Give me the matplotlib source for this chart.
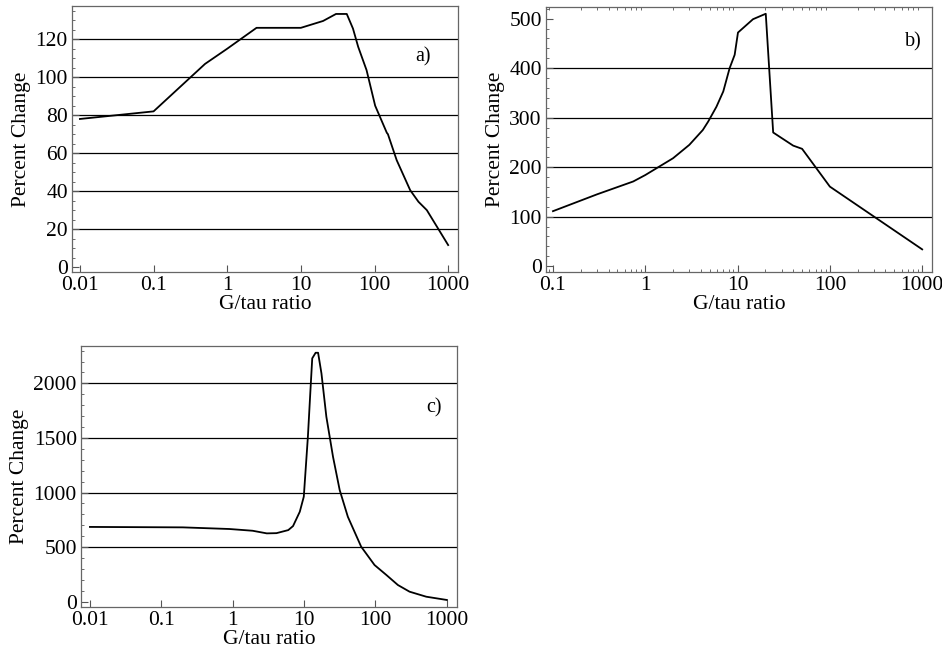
import matplotlib
matplotlib.use('Agg')
import matplotlib.pyplot as plt
from matplotlib.ticker import FixedLocator, LogLocator, NullFormatter, FuncFormatter, MultipleLocator

plt.rcParams['font.family'] = ['Liberation Serif', 'DejaVu Serif']

# panel a)
a_x = [0.01, 0.1, 0.5, 1, 2.5, 10, 20, 30, 42, 51, 60, 78, 102, 147, 152, 200, 305, 395, 513, 1000]
a_y = [78, 82, 107, 115, 126, 126, 129.6, 133.3, 133.3, 125.6, 116, 103.7, 85, 70.7, 70, 56.3, 40.5, 34.4, 30, 11.6]
a_grid = [20, 40, 60, 80, 100, 120]

# panel b)
b_x = [0.1, 0.3, 0.74, 1, 2, 3, 4.2, 4.8, 5.9, 7, 8.2, 9.3, 10.1, 14.7, 20.2, 24.3, 40, 50, 100, 1000]
b_y = [111, 145, 171, 184, 218, 245, 275, 292, 322, 353, 400, 427, 472, 499, 510, 270, 243.5, 237, 160.6, 33.8]
b_grid = [100, 200, 300, 400]

# panel c)
c_x = [0.01, 0.2, 0.9, 1.9, 3, 4.1, 6, 7, 8.7, 9.9, 10.5, 11.3, 12.2, 13, 14.5, 15.7,
       17.5, 20.5, 25.4, 31.5, 41, 63, 97, 142, 206, 300, 514, 1000]
c_y = [685, 681, 666, 650, 626, 628, 656, 693, 824, 962, 1206, 1511, 1908, 2229, 2280, 2280,
       2091, 1694, 1328, 1023, 778, 504, 336, 245, 153, 92, 46, 16]
c_grid = [500, 1000, 1500, 2000]


def fmt_x(v, pos):
    if v >= 1:
        return '%d' % round(v)
    return ('%g' % v)


def panel(ax, x, y, grid, xlim, ylim, ymajor, yminor, xticks, tag, tagpos):
    for g in grid:
        ax.axhline(g, color='black', lw=0.9, zorder=1)
    ax.plot(x, y, color='black', lw=1.3, zorder=3)
    ax.set_xscale('log')
    ax.set_xlim(*xlim)
    ax.set_ylim(*ylim)
    ax.xaxis.set_major_locator(FixedLocator(xticks))
    ax.xaxis.set_major_formatter(FuncFormatter(fmt_x))
    ax.xaxis.set_minor_locator(LogLocator(base=10, subs=range(2, 10)))
    ax.xaxis.set_minor_formatter(NullFormatter())
    ax.yaxis.set_major_locator(MultipleLocator(ymajor))
    ax.yaxis.set_minor_locator(MultipleLocator(yminor))
    ax.tick_params(which='both', direction='in', top=True, right=False,
                   labelsize=15.5, color='#555555', pad=3)
    ax.tick_params(which='major', length=5, width=0.8)
    ax.tick_params(which='minor', length=2.5, width=0.6)
    ax.tick_params(axis='x', which='major', top=False)
    for s in ax.spines.values():
        s.set_color('#666666')
        s.set_linewidth(0.9)
    ax.set_xlabel('G/tau ratio', fontsize=15.5, labelpad=0)
    ax.set_ylabel('Percent Change', fontsize=15.5, labelpad=3)
    ax.text(tagpos[0], tagpos[1], tag, transform=ax.transAxes, fontsize=14.5,
            ha='center', va='center')


fig = plt.figure(figsize=(9.42, 6.5), dpi=100)
ax_a = fig.add_axes([0.0764, 0.5815, 0.41, 0.409])
ax_b = fig.add_axes([0.5796, 0.5815, 0.41, 0.408])
ax_c = fig.add_axes([0.086, 0.0662, 0.399, 0.4015])

panel(ax_a, a_x, a_y, a_grid, (0.0078, 1368), (-2.6, 137.4), 20, 5,
      [0.01, 0.1, 1, 10, 100, 1000], 'a)', (0.909, 0.808))
panel(ax_b, b_x, b_y, b_grid, (0.084, 1284), (-12, 524), 100, 20,
      [0.1, 1, 10, 100, 1000], 'b)', (0.95, 0.868))
panel(ax_c, c_x, c_y, c_grid, (0.0075, 1380), (-48, 2342), 500, 100,
      [0.01, 0.1, 1, 10, 100, 1000], 'c)', (0.94, 0.762))

fig.savefig('out.png', dpi=100)
